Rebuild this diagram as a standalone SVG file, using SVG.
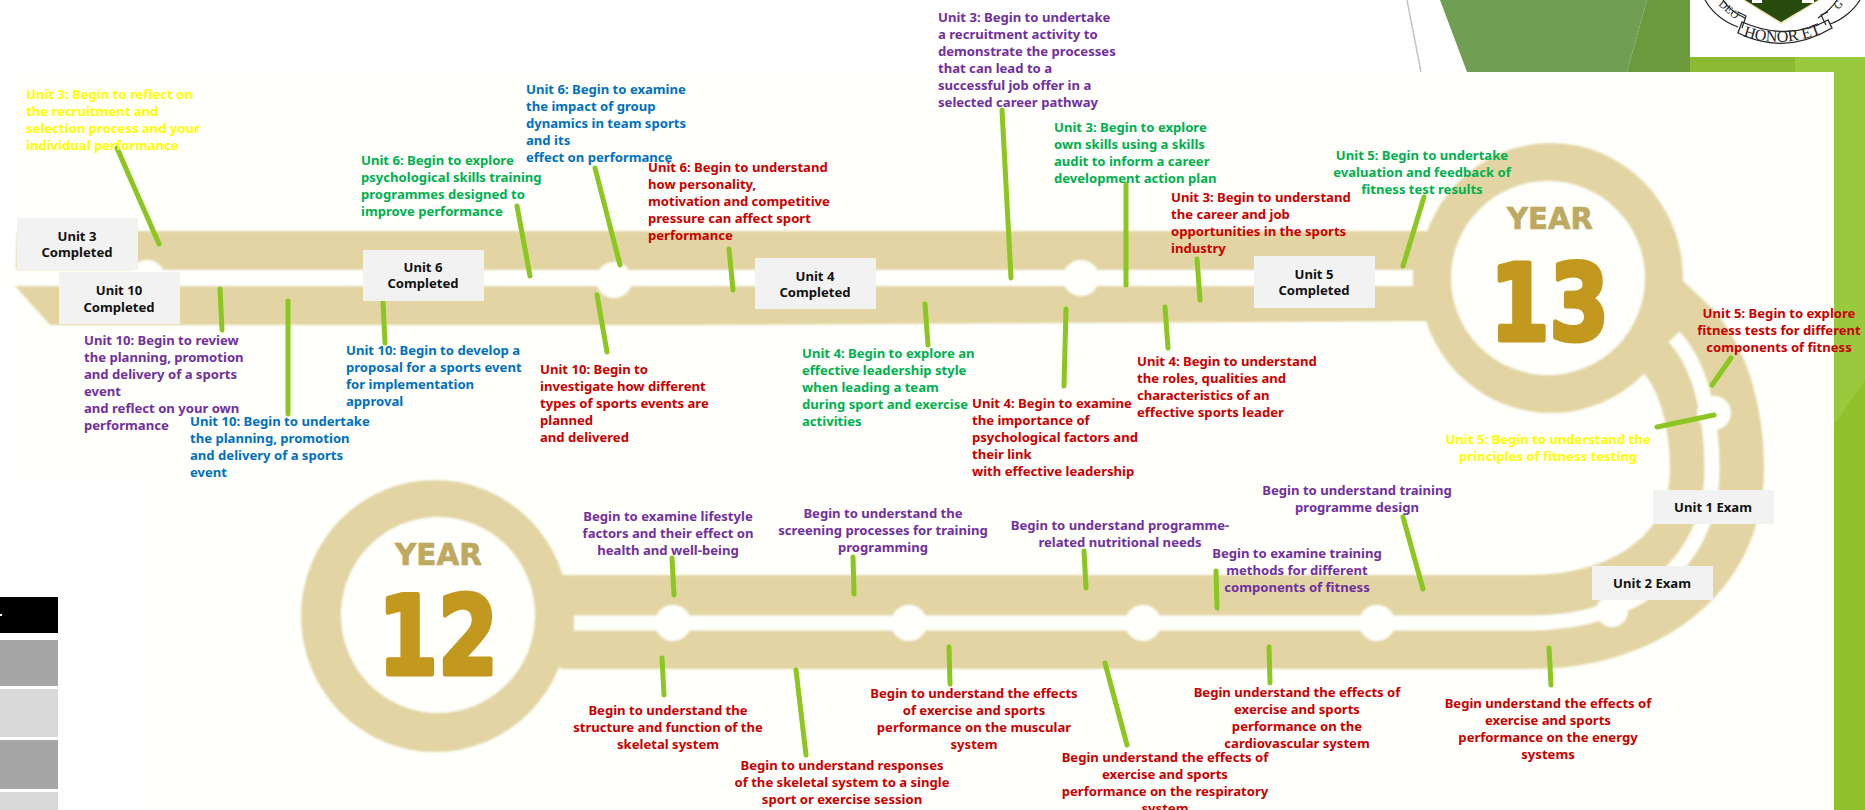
<svg xmlns="http://www.w3.org/2000/svg" width="1865" height="810" viewBox="0 0 1865 810">
<style>
text{font-family:"Noto Sans","Liberation Sans",sans-serif;font-weight:700;font-size:13.1px}
.y{fill:#ffff00}.g{fill:#00b050}.b{fill:#0070c0}.p{fill:#7030a0}.r{fill:#c80000}
.m{text-anchor:middle}
.box{fill:#f2f2f2}
.bt{fill:#111;text-anchor:middle}
.lnk{stroke:#8cc620;stroke-width:5;stroke-linecap:round;fill:none}
.tan{fill:#e2d5a3}
.w{fill:#fffffb}
.yr{font-family:"DejaVu Sans",sans-serif;font-size:31px;fill:#bda95f;stroke:#bda95f;stroke-width:.7}
.num{font-family:"DejaVu Sans",sans-serif;fill:#c2981f;stroke:#c2981f;stroke-width:5;stroke-linejoin:round}
.ser{font-family:"Liberation Serif",serif;font-weight:400;fill:#222}
.ink{fill:none;stroke:#222;stroke-width:1.2}
</style>
<defs><filter id="soft" x="-5%" y="-5%" width="110%" height="110%"><feGaussianBlur stdDeviation="1.1"/></filter></defs>
<rect width="1865" height="810" fill="#fff"/>
<g id="background">
<polygon points="1440,0 1647,0 1627,72 1467,72" fill="#709f54"/>
<polygon points="1647,0 1700,0 1705,72 1627,72" fill="#6b9a3c"/>
<rect x="1690" y="57" width="175" height="15" fill="#8cbb33"/>
<rect x="1795" y="57" width="70" height="15" fill="#99c93c"/>
<line x1="1407" y1="0" x2="1421" y2="72" stroke="#c4c4c4" stroke-width="1.5"/>
<rect x="1834" y="60" width="31" height="750" fill="#99c93c"/>
<polygon points="1834,425 1865,380 1865,810 1834,810" fill="#91c12a"/>
<polygon points="14,72 1834,72 1834,810 150,810 150,480 14,480" class="w"/>
<rect x="0" y="597" width="58" height="36" fill="#000"/>
<rect x="0" y="614" width="2" height="2" fill="#fff"/>
<rect x="0" y="640" width="58" height="46" fill="#a6a6a6"/>
<rect x="0" y="689" width="58" height="48" fill="#d9d9d9"/>
<rect x="0" y="740" width="58" height="49" fill="#a6a6a6"/>
<rect x="0" y="792" width="58" height="18" fill="#d9d9d9"/>
</g>
<g id="logo">
<rect x="1690" y="0" width="175" height="57" fill="#fff"/>
<path class="ink" d="M1705,0 C1712,12 1724,22 1738,27"/>
<path class="ink" d="M1723,0 C1728,8 1736,14 1745,18"/>
<path class="ink" d="M1860,0 C1854,10 1842,20 1830,24"/>
<path class="ink" d="M1837,0 C1832,8 1826,13 1818,18"/>
<polygon points="1743,0 1820,0 1781,24" fill="#e8e0a8"/>
<polygon points="1745,0 1818,0 1781,22" fill="#284a0c"/>
<rect x="1752" y="0" width="10" height="3" fill="#fff"/>
<rect x="1802" y="0" width="12" height="3" fill="#fff"/>
<path d="M1742,22 Q1788,42 1828,20 L1832,28 Q1785,56 1738,33 Z" fill="#fff" stroke="#222" stroke-width="1.3"/>
<path class="ink" d="M1738,12 L1746,16 L1742,28 M1828,12 L1821,15 L1826,25"/>
<path id="honor" d="M1743,36 Q1785,50 1826,31" fill="none"/>
<text class="ser" style="font-size:16px"><textPath href="#honor">HONOR ET</textPath></text>
<text class="ser" transform="translate(1718,5) rotate(40)" style="font-size:11px">DEO</text>
<text class="ser" transform="translate(1838,10) rotate(-45)" style="font-size:11px">G</text>
</g>
<g id="road" filter="url(#soft)">
<polygon class="tan" points="16,270 17,231 1450,231 1450,270"/>
<polygon class="tan" points="15,286 50,325 700,325 1450,321 1450,270 15,270"/>
<path d="M1640,305 L1674,337 C1700,362 1717,410 1717,470 C1717,560 1640,622 1530,622 H560" fill="none" stroke="#e2d5a3" stroke-width="94"/>
<ellipse class="tan" cx="1551" cy="278" rx="132" ry="135"/>
<ellipse class="tan" cx="435" cy="616" rx="134" ry="136"/>
<ellipse class="w" cx="1548" cy="278" rx="97" ry="97"/>
<ellipse class="w" cx="438" cy="615" rx="97" ry="98"/>
<rect class="w" x="0" y="270" width="1413" height="16"/>
<path d="M1674,337 C1698,362 1712,410 1712,470 C1712,560 1640,623 1530,623 H574" fill="none" stroke="#fffffb" stroke-width="15"/>
<g class="w">
<circle cx="147" cy="278" r="18"/><circle cx="614" cy="280" r="18"/><circle cx="1081" cy="278" r="18"/>
<circle cx="673" cy="623" r="18"/><circle cx="909" cy="623" r="18"/><circle cx="1143" cy="623" r="18"/><circle cx="1377" cy="623" r="18"/><circle cx="1612" cy="611" r="16"/><circle cx="1714" cy="413" r="17"/>
</g>
</g>
<g id="year13">
<text class="yr" x="1507" y="229" textLength="86" lengthAdjust="spacingAndGlyphs">YEAR</text>
<text class="num" x="1490" y="339.5" textLength="119" lengthAdjust="spacingAndGlyphs" style="font-size:105px">13</text>
</g>
<g id="year12">
<text class="yr" x="395" y="565" textLength="87" lengthAdjust="spacingAndGlyphs">YEAR</text>
<text class="num" x="378" y="674" textLength="120" lengthAdjust="spacingAndGlyphs" style="font-size:108px">12</text>
</g>
<g id="connectors" class="lnk">
<line x1="117" y1="148" x2="159" y2="244"/><line x1="220" y1="289" x2="222" y2="330"/><line x1="288" y1="301" x2="288" y2="414"/><line x1="383" y1="302" x2="385" y2="343"/><line x1="517" y1="206" x2="530" y2="276"/><line x1="595" y1="168" x2="620" y2="265"/><line x1="597" y1="295" x2="607" y2="352"/><line x1="729" y1="249" x2="733" y2="290"/><line x1="925" y1="304" x2="928" y2="345"/><line x1="1002" y1="110" x2="1011" y2="278"/><line x1="1126" y1="184" x2="1126" y2="285"/><line x1="1066" y1="309" x2="1064" y2="386"/><line x1="1165" y1="307" x2="1168" y2="348"/><line x1="1197" y1="259" x2="1200" y2="300"/><line x1="1424" y1="197" x2="1403" y2="266"/><line x1="1731" y1="358" x2="1712" y2="385"/><line x1="1714" y1="415" x2="1657" y2="427"/><line x1="853" y1="557" x2="854" y2="594"/><line x1="1084" y1="551" x2="1086" y2="588"/><line x1="1216" y1="571" x2="1217" y2="608"/><line x1="1403" y1="517" x2="1423" y2="589"/><line x1="949" y1="647" x2="950" y2="684"/><line x1="1105" y1="663" x2="1127" y2="745"/><line x1="1269" y1="647" x2="1270" y2="683"/><line x1="1549" y1="648" x2="1551" y2="685"/><line x1="672" y1="558" x2="674" y2="595"/><line x1="662" y1="658" x2="664" y2="695"/><line x1="796" y1="670" x2="806" y2="755"/>
</g>
<g id="box-unit3"><rect class="box" x="17" y="218" width="121" height="52"/><text class="bt" x="77" y="241">Unit 3<tspan x="77" dy="16">Completed</tspan></text></g>
<g id="box-unit10"><rect class="box" x="59" y="272" width="121" height="52"/><text class="bt" x="119" y="295">Unit 10<tspan x="119" dy="17">Completed</tspan></text></g>
<g id="box-unit6"><rect class="box" x="363" y="250" width="121" height="51"/><text class="bt" x="423" y="272">Unit 6<tspan x="423" dy="16">Completed</tspan></text></g>
<g id="box-unit4"><rect class="box" x="755" y="258" width="121" height="51"/><text class="bt" x="815" y="281">Unit 4<tspan x="815" dy="16">Completed</tspan></text></g>
<g id="box-unit5"><rect class="box" x="1254" y="256" width="121" height="52"/><text class="bt" x="1314" y="279">Unit 5<tspan x="1314" dy="16">Completed</tspan></text></g>
<g id="box-exam1"><rect class="box" x="1653" y="490" width="121" height="34"/><text class="bt" x="1713" y="512">Unit 1 Exam</text></g>
<g id="box-exam2"><rect class="box" x="1592" y="566" width="121" height="34"/><text class="bt" x="1652" y="588">Unit 2 Exam</text></g>
<g id="t1"><text class="y" x="26" y="99">Unit 3: Begin to reflect on<tspan x="26" dy="17">the recruitment and</tspan><tspan x="26" dy="17">selection process and your</tspan><tspan x="26" dy="17">individual performance</tspan></text></g>
<g id="t2"><text class="b" x="526" y="94">Unit 6: Begin to examine<tspan x="526" dy="17">the impact of group</tspan><tspan x="526" dy="17">dynamics in team sports</tspan><tspan x="526" dy="17">and its</tspan><tspan x="526" dy="17">effect on performance</tspan></text></g>
<g id="t3"><text class="g" x="361" y="165">Unit 6: Begin to explore<tspan x="361" dy="17">psychological skills training</tspan><tspan x="361" dy="17">programmes designed to</tspan><tspan x="361" dy="17">improve performance</tspan></text></g>
<g id="t4"><text class="r" x="648" y="172">Unit 6: Begin to understand<tspan x="648" dy="17">how personality,</tspan><tspan x="648" dy="17">motivation and competitive</tspan><tspan x="648" dy="17">pressure can affect sport</tspan><tspan x="648" dy="17">performance</tspan></text></g>
<g id="t5"><text class="p" x="84" y="345">Unit 10: Begin to review<tspan x="84" dy="17">the planning, promotion</tspan><tspan x="84" dy="17">and delivery of a sports</tspan><tspan x="84" dy="17">event</tspan><tspan x="84" dy="17">and reflect on your own</tspan><tspan x="84" dy="17">performance</tspan></text></g>
<g id="t6"><text class="b" x="190" y="426">Unit 10: Begin to undertake<tspan x="190" dy="17">the planning, promotion</tspan><tspan x="190" dy="17">and delivery of a sports</tspan><tspan x="190" dy="17">event</tspan></text></g>
<g id="t7"><text class="b" x="346" y="355">Unit 10: Begin to develop a<tspan x="346" dy="17">proposal for a sports event</tspan><tspan x="346" dy="17">for implementation</tspan><tspan x="346" dy="17">approval</tspan></text></g>
<g id="t8"><text class="r" x="540" y="374">Unit 10: Begin to<tspan x="540" dy="17">investigate how different</tspan><tspan x="540" dy="17">types of sports events are</tspan><tspan x="540" dy="17">planned</tspan><tspan x="540" dy="17">and delivered</tspan></text></g>
<g id="t9"><text class="g" x="802" y="358">Unit 4: Begin to explore an<tspan x="802" dy="17">effective leadership style</tspan><tspan x="802" dy="17">when leading a team</tspan><tspan x="802" dy="17">during sport and exercise</tspan><tspan x="802" dy="17">activities</tspan></text></g>
<g id="t10"><text class="p" x="938" y="22">Unit 3: Begin to undertake<tspan x="938" dy="17">a recruitment activity to</tspan><tspan x="938" dy="17">demonstrate the processes</tspan><tspan x="938" dy="17">that can lead to a</tspan><tspan x="938" dy="17">successful job offer in a</tspan><tspan x="938" dy="17">selected career pathway</tspan></text></g>
<g id="t11"><text class="g" x="1054" y="132">Unit 3: Begin to explore<tspan x="1054" dy="17">own skills using a skills</tspan><tspan x="1054" dy="17">audit to inform a career</tspan><tspan x="1054" dy="17">development action plan</tspan></text></g>
<g id="t12"><text class="r" x="1171" y="202">Unit 3: Begin to understand<tspan x="1171" dy="17">the career and job</tspan><tspan x="1171" dy="17">opportunities in the sports</tspan><tspan x="1171" dy="17">industry</tspan></text></g>
<g id="t13"><text class="g m" x="1422" y="160">Unit 5: Begin to undertake<tspan x="1422" dy="17">evaluation and feedback of</tspan><tspan x="1422" dy="17">fitness test results</tspan></text></g>
<g id="t14"><text class="r" x="1137" y="366">Unit 4: Begin to understand<tspan x="1137" dy="17">the roles, qualities and</tspan><tspan x="1137" dy="17">characteristics of an</tspan><tspan x="1137" dy="17">effective sports leader</tspan></text></g>
<g id="t15"><text class="r" x="972" y="408">Unit 4: Begin to examine<tspan x="972" dy="17">the importance of</tspan><tspan x="972" dy="17">psychological factors and</tspan><tspan x="972" dy="17">their link</tspan><tspan x="972" dy="17">with effective leadership</tspan></text></g>
<g id="t16"><text class="y m" x="1548" y="444">Unit 5: Begin to understand the<tspan x="1548" dy="17">principles of fitness testing</tspan></text></g>
<g id="t17"><text class="r m" x="1779" y="318">Unit 5: Begin to explore<tspan x="1779" dy="17">fitness tests for different</tspan><tspan x="1779" dy="17">components of fitness</tspan></text></g>
<g id="t18"><text class="p m" x="1357" y="495">Begin to understand training<tspan x="1357" dy="17">programme design</tspan></text></g>
<g id="t19"><text class="p m" x="883" y="518">Begin to understand the<tspan x="883" dy="17">screening processes for training</tspan><tspan x="883" dy="17">programming</tspan></text></g>
<g id="t20"><text class="p m" x="1120" y="530">Begin to understand programme-<tspan x="1120" dy="17">related nutritional needs</tspan></text></g>
<g id="t21"><text class="p m" x="1297" y="558">Begin to examine training<tspan x="1297" dy="17">methods for different</tspan><tspan x="1297" dy="17">components of fitness</tspan></text></g>
<g id="t22"><text class="p m" x="668" y="521">Begin to examine lifestyle<tspan x="668" dy="17">factors and their effect on</tspan><tspan x="668" dy="17">health and well-being</tspan></text></g>
<g id="t23"><text class="r m" x="668" y="715">Begin to understand the<tspan x="668" dy="17">structure and function of the</tspan><tspan x="668" dy="17">skeletal system</tspan></text></g>
<g id="t24"><text class="r m" x="842" y="770">Begin to understand responses<tspan x="842" dy="17">of the skeletal system to a single</tspan><tspan x="842" dy="17">sport or exercise session</tspan></text></g>
<g id="t25"><text class="r m" x="974" y="698">Begin to understand the effects<tspan x="974" dy="17">of exercise and sports</tspan><tspan x="974" dy="17">performance on the muscular</tspan><tspan x="974" dy="17">system</tspan></text></g>
<g id="t26"><text class="r m" x="1165" y="762">Begin understand the effects of<tspan x="1165" dy="17">exercise and sports</tspan><tspan x="1165" dy="17">performance on the respiratory</tspan><tspan x="1165" dy="17">system</tspan></text></g>
<g id="t27"><text class="r m" x="1297" y="697">Begin understand the effects of<tspan x="1297" dy="17">exercise and sports</tspan><tspan x="1297" dy="17">performance on the</tspan><tspan x="1297" dy="17">cardiovascular system</tspan></text></g>
<g id="t28"><text class="r m" x="1548" y="708">Begin understand the effects of<tspan x="1548" dy="17">exercise and sports</tspan><tspan x="1548" dy="17">performance on the energy</tspan><tspan x="1548" dy="17">systems</tspan></text></g>
</svg>
